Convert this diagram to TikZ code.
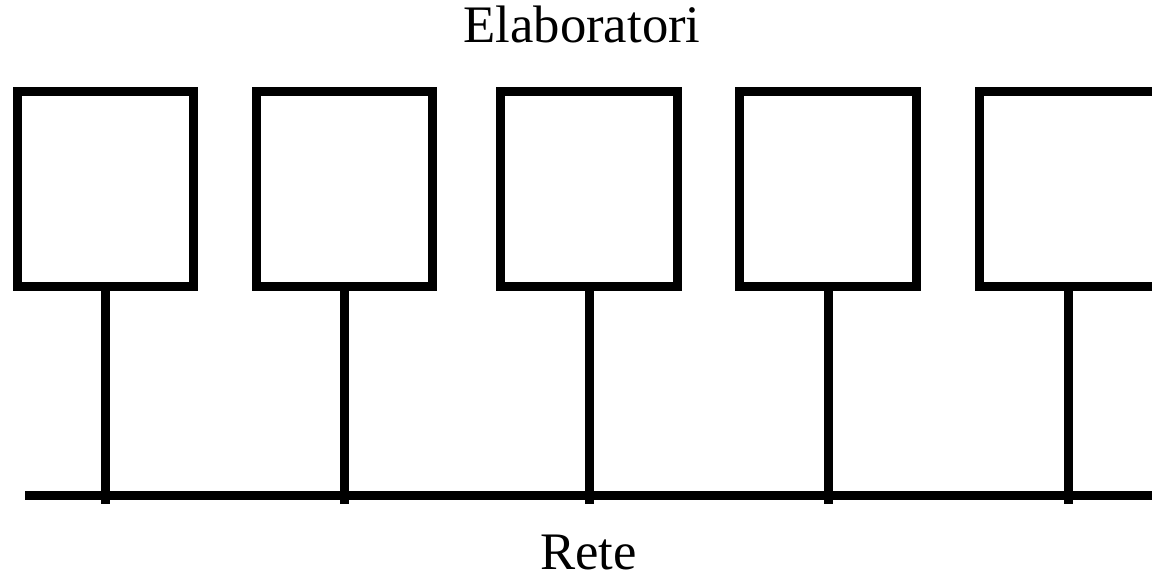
\documentclass[tikz,border=0pt]{standalone}
\usepackage{fontspec}
\setmainfont{Liberation Serif}
\usetikzlibrary{positioning, calc}

\begin{document}
\begin{tikzpicture}[
  x=0.02cm, y=-0.02cm,
  host/.style={draw=black, line width=0.18cm, fill=white,
               minimum width=3.54cm, minimum height=3.9cm, inner sep=0pt},
  wire/.style={draw=black, line width=0.18cm},
  lab/.style={font=\fontsize{30pt}{36pt}\selectfont, inner sep=0pt,
              text depth=0pt, anchor=base},
]
\useasboundingbox (0,0) rectangle (1152,574);
\clip (0,0) rectangle (1152,574);

% ---- Titles -------------------------------------------------------------
\node[lab] (top) at (582,43) {Elaboratori};
\node[lab] (bottom) at (588.5,569) {Rete};

% ---- Shared network line -----------------------------------------------
\coordinate (busL) at (25,495.5);
\coordinate (busR) at (1170,495.5);
\draw[wire] (busL) -- (busR);

% ---- Hosts hanging off the line ----------------------------------------
\foreach \x [count=\i] in {105.5,344.5,589,828,1068} {
  \node[host] (pc\i) at (\x,189) {};
  \coordinate (tap\i) at (\x,504);
  \draw[wire] (pc\i.south) -- (tap\i);
}

\end{tikzpicture}
\end{document}
